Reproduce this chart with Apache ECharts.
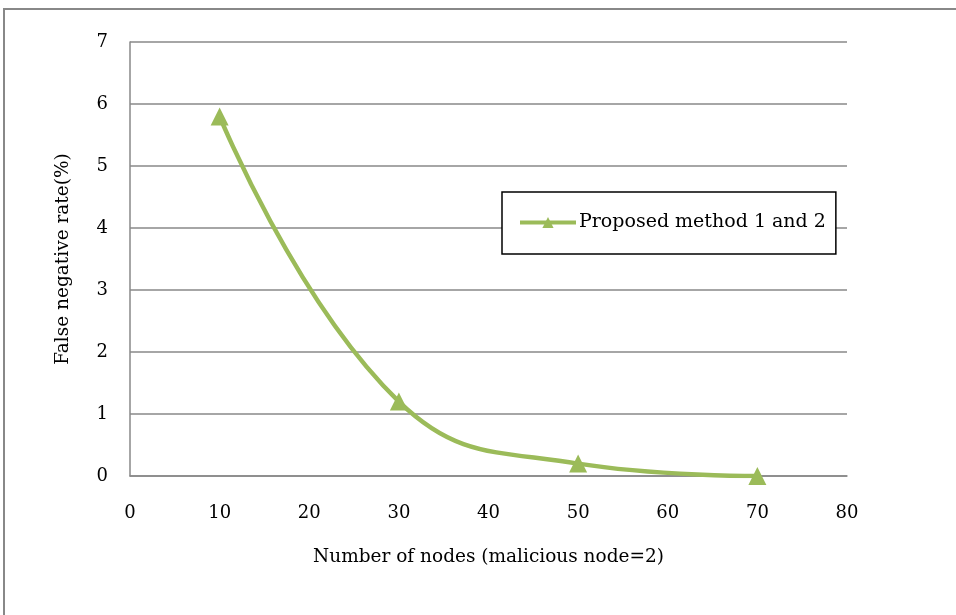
<!DOCTYPE html>
<html><head><meta charset="utf-8">
<script src="https://cdn.jsdelivr.net/npm/echarts@6/dist/echarts.min.js"></script>
<style>html,body{margin:0;padding:0;background:#fff}#c{width:956px;height:615px}</style>
</head><body><div id="c"></div>
<script>
const xValues = [10, 30, 50, 70];
const yValues = [5.8, 1.2, 0.2, 0];
const seriesName = 'Proposed method 1 and 2';
const xTitle = 'Number of nodes (malicious node=2)';
const yTitle = 'False negative rate(%)';

const chart = echarts.init(document.getElementById('c'));
const font = 'DejaVu Serif';
chart.setOption({
  backgroundColor: '#fff',
  animation: false,
  graphic: [{
    type: 'rect', shape: {x: 4, y: 9, width: 1000, height: 700},
    style: {fill: 'none', stroke: '#888', lineWidth: 2}, silent: true
  }],
  grid: {left: 130, top: 42, width: 717, height: 434},
  xAxis: {
    type: 'value', min: 0, max: 80, interval: 10,
    name: xTitle, nameLocation: 'middle', nameGap: 72,
    nameTextStyle: {fontFamily: font, fontSize: 18.5, color: '#000'},
    axisLine: {show: true, lineStyle: {color: '#888', width: 1.5}},
    axisTick: {show: false},
    splitLine: {show: false},
    axisLabel: {fontFamily: font, fontSize: 18, color: '#000', margin: 28}
  },
  yAxis: {
    type: 'value', min: 0, max: 7, interval: 1,
    name: yTitle, nameLocation: 'middle', nameGap: 57,
    nameTextStyle: {fontFamily: font, fontSize: 18.5, color: '#000'},
    axisLine: {show: true, lineStyle: {color: '#888', width: 1.5}},
    axisTick: {show: false},
    splitLine: {show: true, lineStyle: {color: '#888', width: 1.5}},
    axisLabel: {fontFamily: font, fontSize: 18, color: '#000', margin: 22}
  },
  legend: {
    show: true, left: 502, top: 192,
    padding: [21, 10, 22, 16],
    borderColor: '#000', borderWidth: 1.5, backgroundColor: '#fff',
    itemWidth: 56, itemHeight: 14, itemGap: 4,
    lineStyle: {width: 4},
    textStyle: {fontFamily: font, fontSize: 19, color: '#000', padding: [0, 0, 0, -2]},
    data: [seriesName]
  },
  series: [{
    name: seriesName, type: 'line', smooth: 0.45,
    data: xValues.map((x, i) => [x, yValues[i]]),
    symbol: 'triangle', symbolSize: 18,
    lineStyle: {color: '#9BBB59', width: 4.5},
    itemStyle: {color: '#9BBB59'}
  }]
});
</script></body></html>
